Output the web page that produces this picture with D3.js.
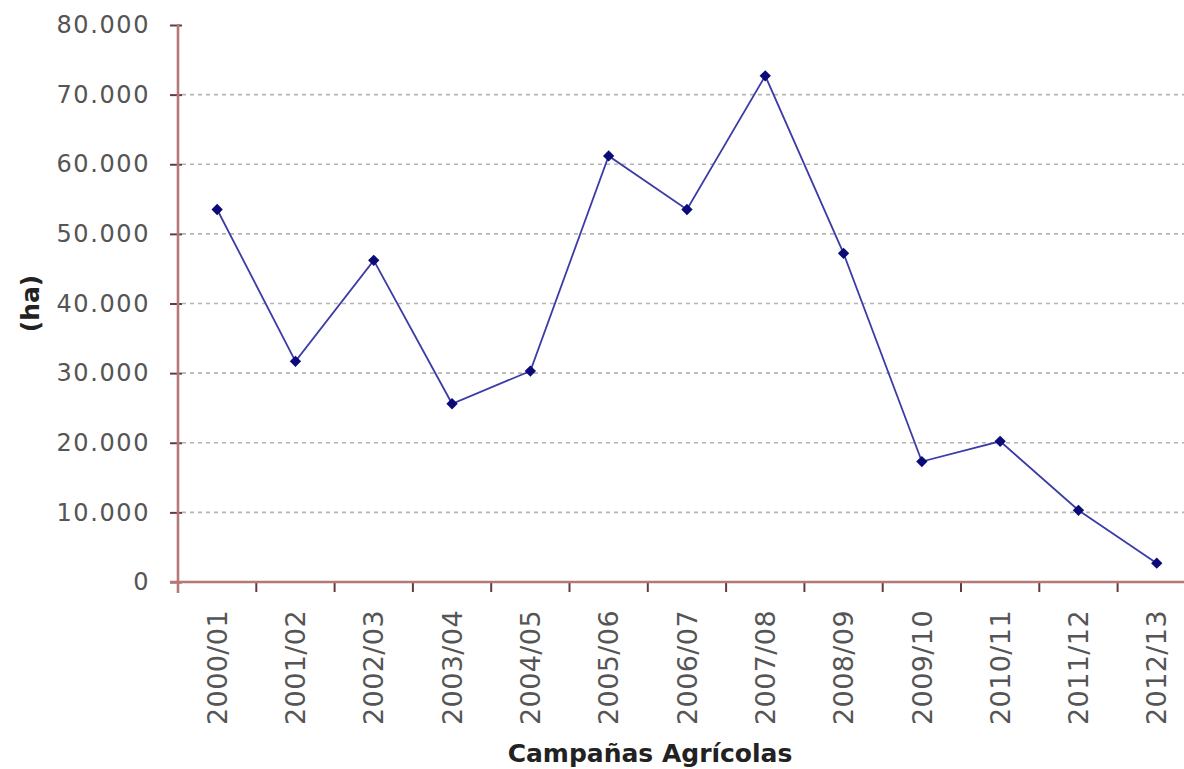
<!DOCTYPE html>
<html>
<head>
<meta charset="utf-8">
<script src="https://cdn.jsdelivr.net/npm/d3@7"></script>
<style>
  body { margin: 0; background: #fff; }
  svg { display: block; }
</style>
</head>
<body>
<script>
var categorias = ["2000/01", "2001/02", "2002/03", "2003/04", "2004/05", "2005/06", "2006/07",
                  "2007/08", "2008/09", "2009/10", "2010/11", "2011/12", "2012/13"];
var hectareas = [53500, 31700, 46200, 25600, 30300, 61200, 53500, 72700, 47200, 17300, 20200, 10300, 2700];
var yTicks = [0, 10000, 20000, 30000, 40000, 50000, 60000, 70000, 80000];

var w = 1184, h = 769;
var izq = 178, abajo = 582, arriba = 25;

var svg = d3.select("body").append("svg")
    .attr("width", w)
    .attr("height", h);

var x = d3.scaleBand()
    .domain(categorias)
    .range([izq, izq + 13 * 78.3]);

var y = d3.scaleLinear()
    .domain([0, 80000])
    .range([abajo, arriba]);

var fmt = d3.formatLocale({ decimal: ",", thousands: ".", grouping: [3], currency: ["", ""] }).format(",");

// lineas de grilla
svg.append("g")
    .selectAll("line")
    .data(yTicks.filter(function (d) { return d > 0 && d < 80000; }))
    .enter()
    .append("line")
    .attr("x1", izq + 4)
    .attr("x2", w)
    .attr("y1", function (d) { return y(d); })
    .attr("y2", function (d) { return y(d); })
    .attr("stroke", "#b4b4b4")
    .attr("stroke-width", 1.6)
    .attr("stroke-dasharray", "4,4");

// eje Y
var ejeY = svg.append("g")
    .attr("transform", "translate(" + izq + ",0)")
    .call(d3.axisLeft(y).tickValues(yTicks).tickFormat(fmt).tickSize(8).tickPadding(20));
ejeY.select(".domain").remove();
ejeY.selectAll(".tick line").attr("stroke", "#6a3a3a").attr("stroke-width", 2).attr("x2", -8).attr("x1", 4);
ejeY.selectAll(".tick text")
    .attr("fill", "#555")
    .style("font-family", "DejaVu Sans, Verdana, sans-serif")
    .style("font-size", "24px")
    .style("letter-spacing", "1.6px");

// eje X: etiquetas
var ejeX = svg.append("g")
    .attr("transform", "translate(0," + abajo + ")")
    .call(d3.axisBottom(x).tickSize(0));
ejeX.select(".domain").remove();
ejeX.selectAll(".tick text")
    .attr("fill", "#555")
    .style("font-family", "DejaVu Sans, Verdana, sans-serif")
    .style("font-size", "27px")
    .style("letter-spacing", "0.4px")
    .style("text-anchor", "end")
    .attr("transform", "rotate(-90)")
    .attr("x", -28)
    .attr("y", 0)
    .attr("dy", "0.36em");

// marcas del eje X entre categorias
svg.append("g")
    .selectAll("line")
    .data(categorias.slice(1))
    .enter()
    .append("line")
    .attr("x1", function (d) { return x(d); })
    .attr("x2", function (d) { return x(d); })
    .attr("y1", abajo)
    .attr("y2", abajo + 10)
    .attr("stroke", "#6a3a3a")
    .attr("stroke-width", 2);

// lineas de ejes
svg.append("line")
    .attr("x1", izq).attr("x2", izq)
    .attr("y1", arriba - 1).attr("y2", abajo + 11)
    .attr("stroke", "#b47878").attr("stroke-width", 2.6);
svg.append("line")
    .attr("x1", izq - 8).attr("x2", w)
    .attr("y1", abajo).attr("y2", abajo)
    .attr("stroke", "#b47878").attr("stroke-width", 2.6);

// serie
var linea = d3.line()
    .x(function (d, i) { return x(categorias[i]) + x.bandwidth() / 2; })
    .y(function (d) { return y(d); });

svg.append("path")
    .datum(hectareas)
    .attr("d", linea)
    .attr("fill", "none")
    .attr("stroke", "#3c3ca8")
    .attr("stroke-width", 1.8);

svg.selectAll(".punto")
    .data(hectareas)
    .enter()
    .append("path")
    .attr("class", "punto")
    .attr("d", d3.symbol().type(d3.symbolSquare).size(64))
    .attr("transform", function (d, i) {
        return "translate(" + (x(categorias[i]) + x.bandwidth() / 2) + "," + y(d) + ") rotate(45)";
    })
    .attr("fill", "#0a0a78");

// titulos
svg.append("text")
    .text("(ha)")
    .attr("transform", "translate(39," + ((arriba + abajo) / 2) + ") rotate(-90)")
    .attr("text-anchor", "middle")
    .attr("fill", "#222")
    .style("font-family", "DejaVu Sans, Verdana, sans-serif")
    .style("font-weight", "bold")
    .style("font-size", "25px");

svg.append("text")
    .text("Campañas Agrícolas")
    .attr("x", 650)
    .attr("y", 762)
    .attr("text-anchor", "middle")
    .attr("fill", "#222")
    .style("font-family", "DejaVu Sans, Verdana, sans-serif")
    .style("font-weight", "bold")
    .style("font-size", "25px");
</script>
</body>
</html>
